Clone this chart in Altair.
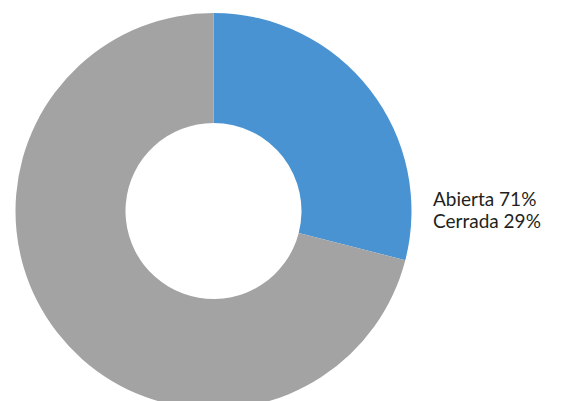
import altair as alt
import pandas as pd

categories = ["Cerrada", "Abierta"]
values = [29, 71]
colors = ["#4a93d2", "#a3a3a3"]
legend_order = ["Abierta", "Cerrada"]

df = pd.DataFrame({"cat": categories, "val": values, "order": list(range(len(categories)))})
val_of = dict(zip(categories, values))

arc = alt.Chart(df).mark_arc(outerRadius=198, innerRadius=88, stroke=None).encode(
    theta=alt.Theta("val:Q", stack=True),
    order=alt.Order("order:Q"),
    color=alt.Color("cat:N", scale=alt.Scale(domain=categories, range=colors), legend=None),
    x=alt.value(213.5),
    y=alt.value(211),
)

layers = [arc]
for i, c in enumerate(legend_order):
    layers.append(
        alt.Chart(pd.DataFrame({"a": [0]})).mark_text(
            align="left", baseline="middle", fontSize=19, font="Lato", color="#231f20",
        ).encode(
            x=alt.value(433), y=alt.value(200 + 22 * i), text=alt.value(f"{c} {val_of[c]}%")
        )
    )

chart = alt.layer(*layers).properties(
    width=561, height=401, padding=0, autosize=alt.AutoSizeParams(type="none")
).configure_view(stroke=None)

chart.save("out.html", embed_options={"renderer": "svg", "actions": False})
